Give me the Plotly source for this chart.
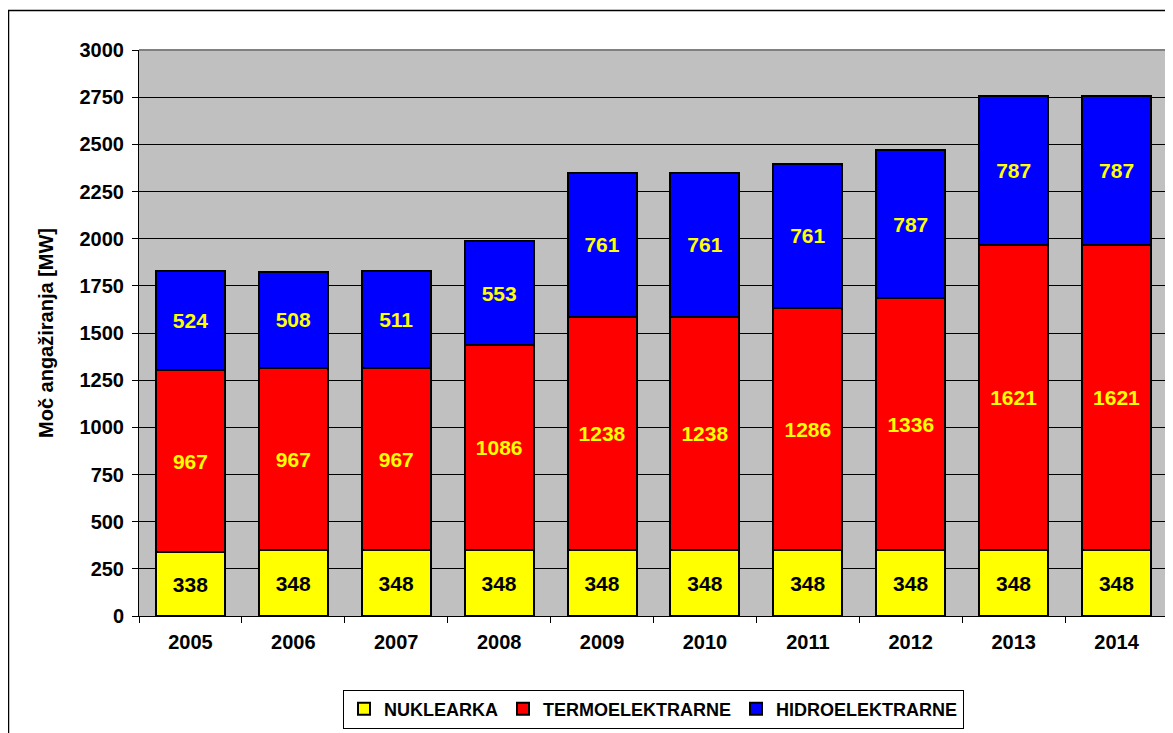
import plotly.graph_objects as go

years = ["2005", "2006", "2007", "2008", "2009", "2010", "2011", "2012", "2013", "2014"]
nuklearka = [338, 348, 348, 348, 348, 348, 348, 348, 348, 348]
termo = [967, 967, 967, 1086, 1238, 1238, 1286, 1336, 1621, 1621]
hidro = [524, 508, 511, 553, 761, 761, 761, 787, 787, 787]

FONT = "Liberation Sans, Arial, sans-serif"

series = [
    ("NUKLEARKA", nuklearka, "#FFFF00", "#000000"),
    ("TERMOELEKTRARNE", termo, "#FF0000", "#FFFF00"),
    ("HIDROELEKTRARNE", hidro, "#0000FF", "#FFFF00"),
]

fig = go.Figure()
for name, vals, col, tcol in series:
    fig.add_trace(go.Bar(
        x=years, y=vals, name=name,
        marker=dict(color=col, line=dict(color="#000000", width=2)),
        text=[str(v) for v in vals],
        textposition="inside", insidetextanchor="middle", textangle=0,
        textfont=dict(family=FONT, size=21, color=tcol, weight="bold"),
        constraintext="none",
    ))

# page has 8px body margin -> figure origin at screen (8,8)
OFF = 8
W, H = 1173 - OFF, 733 - OFF
L, T = 139 - OFF, 50 - OFF
R = W - (1168 - OFF)
B = H - (616 - OFF)
pw, ph = W - L - R, H - T - B

def px(xs):
    return (xs - OFF - L) / pw

def py(ys):
    return (H - B - (ys - OFF)) / ph

fig.update_layout(
    barmode="stack",
    bargap=0.33,
    width=W, height=H,
    margin=dict(l=L, r=R, t=T, b=B),
    paper_bgcolor="#FFFFFF",
    plot_bgcolor="#C0C0C0",
    font=dict(family=FONT, size=16, color="#000000", weight="bold"),
    showlegend=True,
    legend=dict(
        orientation="h", x=0.5, xanchor="center",
        y=py(709), yanchor="middle",
        bordercolor="#000000", borderwidth=1,
        font=dict(family=FONT, size=18, color="#000000", weight="bold"),
        traceorder="normal", itemwidth=30,
    ),
    xaxis=dict(
        type="category", tickson="boundaries",
        ticks="outside", ticklen=6, tickcolor="#000000",
        showline=True, linecolor="#000000", linewidth=1,
        tickfont=dict(family=FONT, size=20, color="#000000", weight="bold"),
        ticklabelstandoff=8,
        showgrid=False,
    ),
    yaxis=dict(
        range=[0, 3000], tick0=0, dtick=250,
        ticks="outside", ticklen=6, tickcolor="#000000",
        showline=True, linecolor="#000000", linewidth=1,
        showgrid=True, gridcolor="#000000", gridwidth=1,
        tickfont=dict(family=FONT, size=20, color="#000000", weight="bold"),
        ticklabelstandoff=4,
        title=dict(text="Moč angažiranja [MW]", standoff=20,
                   font=dict(family=FONT, size=20, color="#000000", weight="bold")),
        zeroline=False,
    ),
    shapes=[
        dict(type="line", xref="paper", yref="paper", x0=0, y0=1, x1=1, y1=1,
             line=dict(color="#808080", width=2)),
        dict(type="line", xref="paper", yref="paper", x0=1, y0=0, x1=1, y1=1,
             line=dict(color="#808080", width=2)),
        dict(type="rect", xref="paper", yref="paper",
             x0=px(8.5), y0=py(10.5), x1=px(1185), y1=py(745),
             line=dict(color="#000000", width=1.5), layer="below"),
    ],
)

fig.write_html("out.html")
